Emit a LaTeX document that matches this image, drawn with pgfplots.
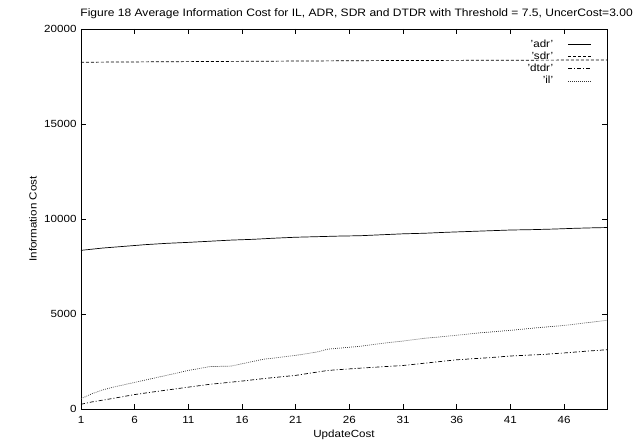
\documentclass[border=0pt]{standalone}
\usepackage{pgfplots}
\pgfplotsset{compat=1.18}
\usepackage{fontspec}
\setmainfont{Liberation Sans}[FakeStretch=1.12]

\begin{document}
\begin{tikzpicture}
\begin{axis}[
  scale only axis,
  width=526bp,
  height=380bp,
  xmin=1, xmax=50,
  ymin=0, ymax=20000,
  xtick={1,6,...,46},
  ytick={0,5000,...,20000},
  tick align=inside,
  major tick length=5bp,
  minor tick num=0,
  axis line style={line width=0.9pt},
  every tick/.style={black,line width=0.6pt},
  font=\fontsize{10.4}{12}\selectfont,
  /pgf/number format/assume math mode=true,
  /pgf/number format/1000 sep={},
  scaled y ticks=false,
  xticklabel style={yshift=-3.5bp},
  yticklabel style={xshift=-1bp},
  xlabel={UpdateCost},
  ylabel={Information Cost},
  xlabel style={at={(axis description cs:0.5,-0.068)},anchor=center},
  ylabel style={at={(axis description cs:-0.0913,0.5)},anchor=center},
  legend plot pos=right,
  legend cell align=right,
  legend style={draw=none,fill=none,inner sep=0pt,
    at={(axis description cs:0.9715,0.976)},anchor=north east,
    font=\fontsize{10.4}{12}\selectfont,row sep=0pt,
    nodes={text height=8.8bp,text depth=3.4bp,inner sep=0pt}},
  legend image code/.code={\path (0bp,0bp); \draw[#1] (15bp,0bp) -- (38bp,0bp);},
  clip=false
]

\addplot[black,line width=0.7pt] coordinates {
(1,8350) (3,8470) (5,8560) (7,8650) (9,8720) (11,8770) (13,8830) (15,8890)
(17,8930) (19,8990) (21,9040) (23,9070) (25,9100) (27,9120) (29,9170)
(31,9220) (33,9250) (35,9300) (37,9340) (39,9380) (41,9420) (43,9440)
(45,9470) (47,9510) (49,9540) (50,9550)
};
\addlegendentry{'adr'}

\addplot[black,line width=0.7pt,dash pattern=on 3bp off 2bp] coordinates {
(1,18250) (10,18280) (20,18310) (30,18340) (40,18355) (50,18370)
};
\addlegendentry{'sdr'}

\addplot[black,line width=0.7pt,dash pattern=on 4bp off 2bp on 1bp off 2bp] coordinates {
(1,250) (2,370) (4,560) (6,760) (8,920) (11,1150) (13,1300) (16,1470)
(18,1600) (21,1770) (24,2030) (27,2150) (31,2290) (34,2470) (36,2590)
(39,2700) (41,2790) (44,2870) (46,2950) (48,3040) (50,3120)
};
\addlegendentry{'dtdr'}

\addplot[black!80,line width=0.7pt,dash pattern=on 0.8bp off 1.2bp] coordinates {
(1,540) (2,800) (3,1000) (4,1150) (6,1400) (8,1650) (10,1900) (11,2030)
(13,2230) (15,2260) (16,2380) (18,2620) (21,2820) (23,3000) (24,3150)
(27,3300) (29,3450) (31,3580) (33,3720) (36,3880) (38,4000) (41,4140)
(43,4250) (46,4400) (48,4530) (50,4670)
};
\addlegendentry{'il'}

\node[font=\fontsize{10.8}{12}\selectfont,anchor=east,inner sep=0pt] at (axis description cs:1.0494,1) [yshift=15bp]
  {Figure 18 Average Information Cost for IL, ADR, SDR and DTDR with Threshold = 7.5, UncerCost=3.00};

\end{axis}
\pgfresetboundingbox
\path[use as bounding box] (-81bp,-36bp) rectangle (554bp,409bp);
\end{tikzpicture}
\end{document}
